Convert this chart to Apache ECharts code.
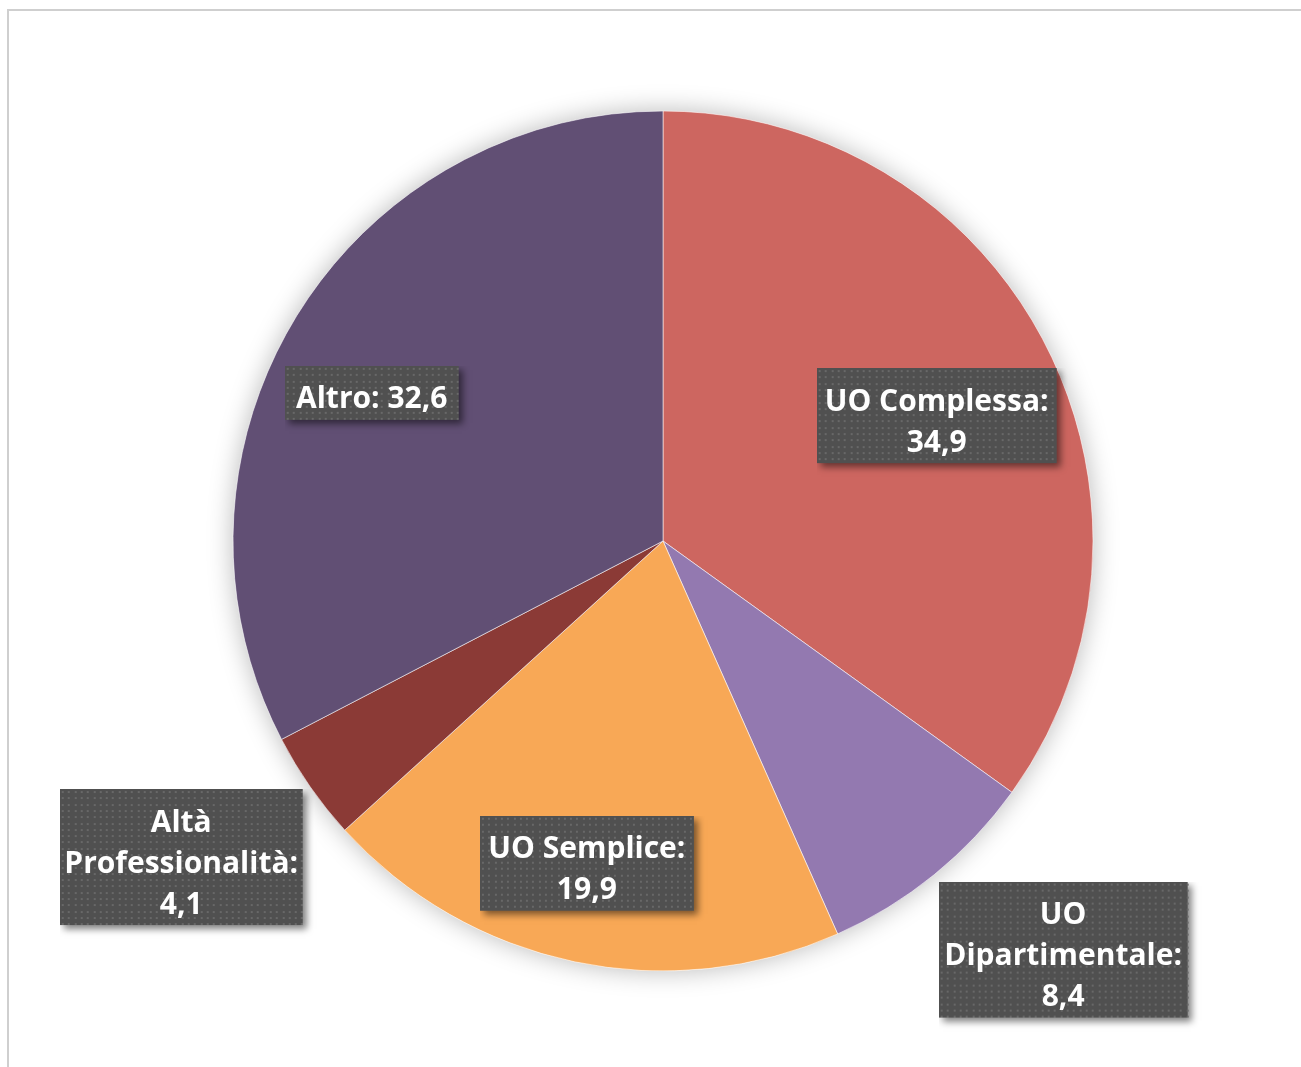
<!DOCTYPE html>
<html>
<head>
<meta charset="utf-8">
<script src="https://cdn.jsdelivr.net/npm/echarts@6/dist/echarts.min.js"></script>
<style>
  html, body { margin: 0; padding: 0; background: #fff; }
  #frame { position: absolute; left: 7px; top: 9px; width: 1400px; height: 1200px;
           border-left: 2px solid #cfcfcf; border-top: 2px solid #cfcfcf; }
  #chart { position: absolute; left: 0; top: 0; width: 1301px; height: 1067px; }
</style>
</head>
<body>
<div id="frame"></div>
<div id="chart"></div>
<script>
// Categories (line breaks as they appear in the labels) and values (%)
const categories = ['UO Complessa', 'UO\nDipartimentale', 'UO Semplice', 'Altà\nProfessionalità', 'Altro'];
const values = [34.9, 8.4, 19.9, 4.1, 32.6];
const colors = ['#CD6660', '#9379B0', '#F8A856', '#8B3A36', '#614F74'];
// Separator between name and value in each label
const separators = ['\n', '\n', '\n', '\n', ' '];

// Label placement: distance from centre (in radii) and angular nudge (degrees)
const labelPlace = [
  { dist: 0.70, shift: 2.5 },
  { dist: 1.33, shift: -5.3 },
  { dist: 0.77, shift: 1.4 },
  { dist: 1.34, shift: 1.6 },
  { dist: 0.76, shift: -4.3 }
];
const boxWidths = [240, 249, 214, 243, 174];

const CX = 663, CY = 541, R = 430;
const LINE_H = 41;
const PAD_T = 8, PAD_B = 5;
const SHADOW = 14;   // room on the right/bottom of each box for its drop shadow

function fmt(v) { return v.toFixed(1).replace('.', ','); }

// Dark dotted box with a soft drop shadow, used as the label background
function labelBox(w, h) {
  const c = document.createElement('canvas');
  c.width = w + SHADOW; c.height = h + SHADOW;
  const g = c.getContext('2d');
  g.save();
  g.shadowColor = 'rgba(0,0,0,0.5)';
  g.shadowBlur = 7;
  g.shadowOffsetX = 4;
  g.shadowOffsetY = 4;
  g.fillStyle = '#505050';
  g.fillRect(0, 0, w, h);
  g.restore();
  g.fillStyle = '#686868';
  for (let y = 2; y < h - 1; y += 6.3) {
    for (let x = 2; x < w - 1; x += 6.3) {
      g.fillRect(Math.round(x), Math.round(y), 2, 2);
    }
  }
  return c;
}

const total = values.reduce((a, b) => a + b, 0);
const midAngles = [];
let acc = 0;
values.forEach(v => { midAngles.push((acc + v / 2) / total * 360); acc += v; });

const data = categories.map((name, i) => {
  const text = name + ':' + separators[i] + fmt(values[i]);
  const lines = text.split('\n').length;
  const w = boxWidths[i];
  const h = lines * LINE_H + PAD_T + PAD_B;
  return {
    name: name,
    value: values[i],
    itemStyle: { color: colors[i] },
    label: {
      formatter: text,
      width: w,
      backgroundColor: { image: labelBox(w, h) }
    }
  };
});

const chart = echarts.init(document.getElementById('chart'));
chart.setOption({
  animation: false,
  backgroundColor: 'transparent',
  series: [
    {
      // soft drop shadow behind the whole pie
      type: 'pie',
      silent: true,
      center: [CX, CY],
      radius: R,
      z: 1,
      label: { show: false },
      labelLine: { show: false },
      itemStyle: {
        color: '#ffffff',
        shadowBlur: 26,
        shadowColor: 'rgba(0,0,0,0.28)'
      },
      data: [{ value: 1 }]
    },
    {
      type: 'pie',
      center: [CX, CY],
      radius: R,
      startAngle: 90,
      clockwise: true,
      z: 2,
      itemStyle: { borderColor: 'rgba(255,255,255,0.55)', borderWidth: 1 },
      labelLine: { show: false },
      label: {
        show: true,
        position: 'inside',
        color: '#ffffff',
        fontFamily: 'Open Sans',
        fontWeight: 'bold',
        fontSize: 30,
        lineHeight: LINE_H,
        align: 'center',
        padding: [PAD_T, SHADOW, PAD_B + SHADOW, 0]
      },
      labelLayout: function (p) {
        const i = p.dataIndex;
        const a = (midAngles[i] + labelPlace[i].shift) * Math.PI / 180;
        const d = labelPlace[i].dist * R;
        return {
          x: CX + d * Math.sin(a) + SHADOW / 2,
          y: CY - d * Math.cos(a) + SHADOW / 2,
          align: 'center',
          verticalAlign: 'middle'
        };
      },
      emphasis: { disabled: true },
      data: data
    }
  ]
});
</script>
</body>
</html>
